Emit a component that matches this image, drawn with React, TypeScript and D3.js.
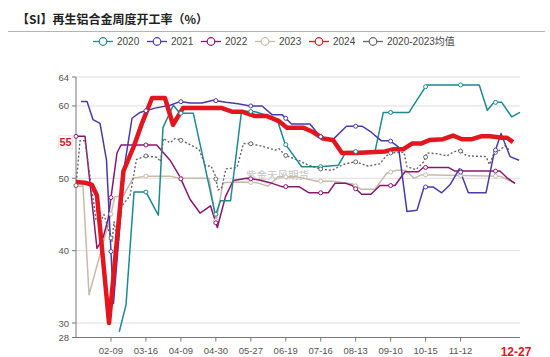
import React from 'react';
import * as d3 from 'd3';

const W = 550;
const H = 357;

// category slot positions (x) and values (y) per series
const x2020 = [4.95, 5.72, 6.64, 8.01, 9.42, 9.95, 11.13, 11.9, 13.42, 15.96, 16.53, 17.68, 18.94, 20.48, 21.62, 22.54, 23.15, 23.91, 25.82, 27.92, 30.01, 30.89, 34.21, 35.16, 38.1, 40.13, 46.14, 47.06, 47.83, 48.71, 49.85, 50.8];
const v2020 = [28.8, 32.5, 48.1, 48.1, 44.9, 57.0, 60.1, 59.0, 59.0, 44.9, 46.9, 46.9, 59.3, 59.2, 58.8, 58.3, 57.6, 54.8, 51.6, 51.6, 51.8, 53.7, 53.7, 59.1, 59.1, 62.9, 62.9, 59.4, 60.5, 60.5, 58.5, 59.1];

const x2021 = [0.57, 1.26, 1.95, 2.75, 3.49, 4.29, 5.61, 6.41, 7.32, 9.04, 10.76, 11.9, 13.04, 14.42, 15.68, 17.16, 18.54, 19.91, 21.28, 22.43, 23.57, 24.66, 26.77, 27.92, 29.18, 30.95, 32.72, 33.75, 34.9, 35.93, 36.9, 37.87, 39.02, 39.82, 40.85, 41.84, 42.79, 43.86, 44.89, 46.91, 47.75, 48.63, 49.66, 50.69];
const v2021 = [60.6, 60.6, 58.1, 57.6, 52.5, 32.7, 52.2, 58.3, 59.1, 59.7, 60.1, 60.6, 60.4, 60.4, 60.8, 60.5, 60.3, 60.0, 60.0, 58.8, 58.8, 57.5, 57.5, 55.8, 55.1, 57.2, 57.2, 56.4, 55.2, 55.2, 54.3, 45.4, 45.6, 48.8, 48.8, 48.0, 49.1, 51.3, 48.0, 48.0, 53.0, 56.2, 53.0, 52.5];

const x2022 = [0, 1.03, 2.4, 3.12, 3.66, 4.69, 5.15, 9.23, 10.76, 11.9, 13.04, 14.19, 15.39, 16.17, 17.11, 18.0, 19.53, 20.82, 22.2, 23.54, 25.51, 26.66, 28.87, 29.63, 30.89, 31.58, 32.69, 33.75, 34.78, 36.5, 37.64, 39.17, 39.74, 42.6, 43.36, 48.51, 49.28, 50.23];
const v2022 = [55.8, 55.8, 40.3, 41.9, 44.3, 53.5, 54.6, 54.6, 52.5, 50.2, 47.1, 45.2, 46.2, 43.2, 47.5, 49.7, 50.0, 49.8, 49.4, 48.85, 48.85, 48.0, 48.0, 49.3, 49.3, 49.0, 47.8, 47.8, 49.0, 49.0, 50.9, 50.9, 51.5, 51.5, 51.0, 51.0, 50.1, 49.3];

const x2023 = [0, 0.8, 1.49, 3.89, 4.46, 5.38, 6.52, 8.01, 10.76, 11.9, 15.22, 16.02, 16.82, 18.42, 20.71, 21.97, 23.11, 25.29, 27.57, 29.41, 31.69, 32.61, 34.21, 35.55, 36.61, 37.76, 38.67, 39.55, 48.51, 50.23];
const v2023 = [48.9, 48.9, 33.9, 44.5, 47.5, 47.5, 50.0, 50.3, 50.3, 50.0, 50.0, 44.0, 49.4, 49.5, 49.4, 48.9, 50.2, 50.2, 49.6, 49.6, 49.2, 48.5, 48.5, 50.7, 51.1, 51.1, 50.0, 50.5, 50.3, 49.3];

const x2024 = [0, 1.03, 1.83, 2.4, 3.78, 5.43, 6.64, 7.55, 8.7, 10.18, 11.1, 12.24, 16.7, 17.85, 18.99, 20.48, 21.85, 23.23, 24.14, 25.97, 27.12, 28.26, 29.41, 30.43, 32.15, 33.64, 35.35, 36.27, 37.41, 38.44, 39.47, 40.5, 41.99, 43.14, 44.16, 45.31, 46.34, 47.37, 48.74, 49.31, 50.0];
const v2024 = [49.5, 49.4, 49.1, 47.6, 30.0, 51.0, 54.5, 57.6, 61.1, 61.1, 57.4, 59.7, 59.7, 59.2, 59.2, 58.6, 58.6, 57.9, 57.0, 57.0, 56.4, 55.5, 55.3, 53.5, 53.5, 53.6, 53.7, 54.0, 54.0, 54.8, 54.8, 55.3, 55.4, 55.9, 55.4, 55.4, 55.8, 55.8, 55.6, 55.6, 55.0];

const xAvg = [0, 0.46, 1.03, 2.29, 2.75, 3.2, 3.55, 4.12, 4.35, 4.81, 5.21, 6.18, 6.92, 8.01, 9.27, 9.67, 10.01, 10.76, 11.33, 11.9, 12.81, 14.07, 14.82, 15.45, 15.9, 16.25, 16.65, 17.16, 18.42, 19.16, 19.91, 21.4, 22.77, 23.23, 23.91, 25.63, 26.43, 27.92, 29.29, 30.55, 31.92, 33.41, 34.78, 35.35, 35.93, 37.53, 37.87, 38.9, 39.82, 40.16, 41.3, 42.45, 43.14, 43.86, 44.7, 46.91, 47.31, 47.83, 48.51, 49.08, 49.66];
const vAvg = [49.0, 55.2, 55.2, 44.3, 43.8, 45.0, 43.5, 41.3, 44.0, 40.8, 46.1, 47.6, 52.6, 53.1, 52.9, 52.3, 55.5, 54.9, 55.5, 55.3, 54.8, 54.0, 51.7, 51.7, 50.5, 48.4, 48.6, 51.3, 51.5, 54.8, 54.8, 54.4, 53.9, 54.1, 53.2, 52.4, 51.9, 51.3, 51.1, 51.9, 52.3, 51.7, 52.0, 52.9, 53.5, 53.6, 51.6, 51.2, 52.3, 53.5, 53.4, 53.1, 53.6, 53.9, 53.1, 53.0, 51.9, 53.5, 53.9, 54.5, 53.8];

const yTickVals = [28, 30, 40, 50, 60, 64];
const gridVals = [30, 40, 50, 60, 64];
const tickSlots = [4, 8, 12, 16, 20, 24, 28, 32, 36, 40, 44];
const tickLabels = ['02-09', '03-16', '04-09', '04-30', '05-27', '06-19', '07-16', '08-13', '09-10', '10-15', '11-12'];
const lastLabel = '12-27';
const symbolSlots = [0, 4, 8, 12, 16, 20, 24, 28, 32, 36, 40, 44, 48];
const latestValueLabel = '55';

const seriesNames = ['2020', '2021', '2022', '2023', '2024', '2020-2023均值'];
const seriesColors = ['#1b8a91', '#4a3aa8', '#8a1670', '#c9baa8', '#e3161f', '#666666'];

const title = '【SI】再生铝合金周度开工率（%）';
const watermark = '紫金天风期货';

const xScale = d3.scaleLinear().domain([0, 50.8]).range([76, 520]);
const yScale = d3.scaleLinear().domain([28, 64]).range([337.5, 77]);

type Series = { name: string; color: string; xs: number[]; vs: number[]; width: number; dash?: string; symbols: boolean };

const series: Series[] = [
  { name: '2023', color: seriesColors[3], xs: x2023, vs: v2023, width: 1.5, symbols: true },
  { name: '2022', color: seriesColors[2], xs: x2022, vs: v2022, width: 1.5, symbols: true },
  { name: '2020', color: seriesColors[0], xs: x2020, vs: v2020, width: 1.5, symbols: true },
  { name: 'avg', color: seriesColors[5], xs: xAvg, vs: vAvg, width: 1.4, dash: '2,2', symbols: true },
  { name: '2021', color: seriesColors[1], xs: x2021, vs: v2021, width: 1.5, symbols: true },
  { name: '2024', color: seriesColors[4], xs: x2024, vs: v2024, width: 4.5, symbols: false },
];

function interp(xs: number[], vs: number[], s: number): number | null {
  if (s < xs[0] - 0.3 || s > xs[xs.length - 1] + 0.3) return null;
  if (s <= xs[0]) return vs[0];
  if (s >= xs[xs.length - 1]) return vs[vs.length - 1];
  for (let i = 1; i < xs.length; i++) {
    if (s <= xs[i]) {
      const t = (s - xs[i - 1]) / (xs[i] - xs[i - 1]);
      return vs[i - 1] + t * (vs[i] - vs[i - 1]);
    }
  }
  return null;
}

export default function App() {
  const line = d3
    .line<[number, number]>()
    .x((d) => xScale(d[0]))
    .y((d) => yScale(d[1]))
    .curve(d3.curveLinear);

  const x0 = xScale(0);
  const x1 = xScale(50.8);
  const yBottom = yScale(28);
  const lastRedX = xScale(x2024[x2024.length - 1]);
  const legendStart = 93;
  const legendStep = 54;

  const font = '"Liberation Sans", Arial, "Noto Sans CJK SC", sans-serif';

  return (
    <svg
      width={W}
      height={H}
      viewBox={`0 0 ${W} ${H}`}
      style={{ position: 'absolute', left: 0, top: 0, background: '#fff' }}
    >
      <rect x={0} y={0} width={W} height={H} fill="#fff" />
      <text x={17} y={24} fontSize={12} fontWeight="bold" fill="#222" fontFamily='"Noto Sans CJK SC", sans-serif'>
        {title}
      </text>
      <line x1={8} x2={545} y1={31.5} y2={31.5} stroke="#b5b5b5" strokeWidth={1} />

      {seriesNames.map((n, i) => {
        const lx = legendStart + i * legendStep;
        return (
          <g key={n}>
            <line x1={lx} x2={lx + 20} y1={41.5} y2={41.5} stroke={seriesColors[i]} strokeWidth={1.3} />
            <circle cx={lx + 10} cy={41.5} r={3.8} fill="#fff" stroke={seriesColors[i]} strokeWidth={1.2} />
            <text x={lx + 24} y={45} fontSize={10} fill="#444" fontFamily={font}>
              {n}
            </text>
          </g>
        );
      })}

      {gridVals.map((v) => (
        <line key={v} x1={x0} x2={x1} y1={yScale(v)} y2={yScale(v)} stroke="#dedede" strokeWidth={1} />
      ))}

      <text x={246} y={179} fontSize={10.5} fill="#c4c4c4" fontFamily='"Noto Sans CJK SC", sans-serif'>
        {watermark}
      </text>

      {/* axes */}
      <line x1={x0} x2={x0} y1={yScale(64)} y2={yBottom} stroke="#777" strokeWidth={1} />
      <line x1={x0} x2={x1} y1={yBottom} y2={yBottom} stroke="#777" strokeWidth={1} />
      {yTickVals.map((v) => (
        <g key={v}>
          <line x1={x0 - 4} x2={x0} y1={yScale(v)} y2={yScale(v)} stroke="#777" />
          <text x={69} y={yScale(v) + 3.5} fontSize={9.5} textAnchor="end" fill="#555" fontFamily={font}>
            {v}
          </text>
        </g>
      ))}
      {tickSlots.map((s, i) => (
        <g key={s}>
          <line x1={xScale(s)} x2={xScale(s)} y1={yBottom} y2={yBottom + 4} stroke="#777" />
          <text x={xScale(s)} y={354} fontSize={9.5} textAnchor="middle" fill="#555" fontFamily={font}>
            {tickLabels[i]}
          </text>
        </g>
      ))}
      <text x={lastRedX + 3} y={355.5} fontSize={12} fontWeight="bold" textAnchor="middle" fill="#e3161f" fontFamily={font}>
        {lastLabel}
      </text>

      {/* series */}
      {series.map((s) => {
        const pts = s.xs.map((x, i) => [x, s.vs[i]] as [number, number]);
        return (
          <path
            key={s.name}
            d={line(pts) || ''}
            fill="none"
            stroke={s.color}
            strokeWidth={s.width}
            strokeDasharray={s.dash}
            strokeLinejoin="round"
          />
        );
      })}
      {series
        .filter((s) => s.symbols)
        .map((s) =>
          symbolSlots.map((slot) => {
            const v = interp(s.xs, s.vs, slot);
            if (v === null) return null;
            return (
              <circle
                key={s.name + slot}
                cx={xScale(slot)}
                cy={yScale(v)}
                r={2}
                fill="#fff"
                stroke={s.color}
                strokeWidth={1}
              />
            );
          })
        )}

      {/* latest value label on y axis */}
      <rect x={58.5} y={yScale(55) - 6.5} width={14} height={13} fill="#fff" stroke="#e8e8e8" strokeWidth={0.8} />
      <text x={65.5} y={yScale(55) + 4} fontSize={11} fontWeight="bold" textAnchor="middle" fill="#e3161f" fontFamily={font}>
        {latestValueLabel}
      </text>
    </svg>
  );
}
